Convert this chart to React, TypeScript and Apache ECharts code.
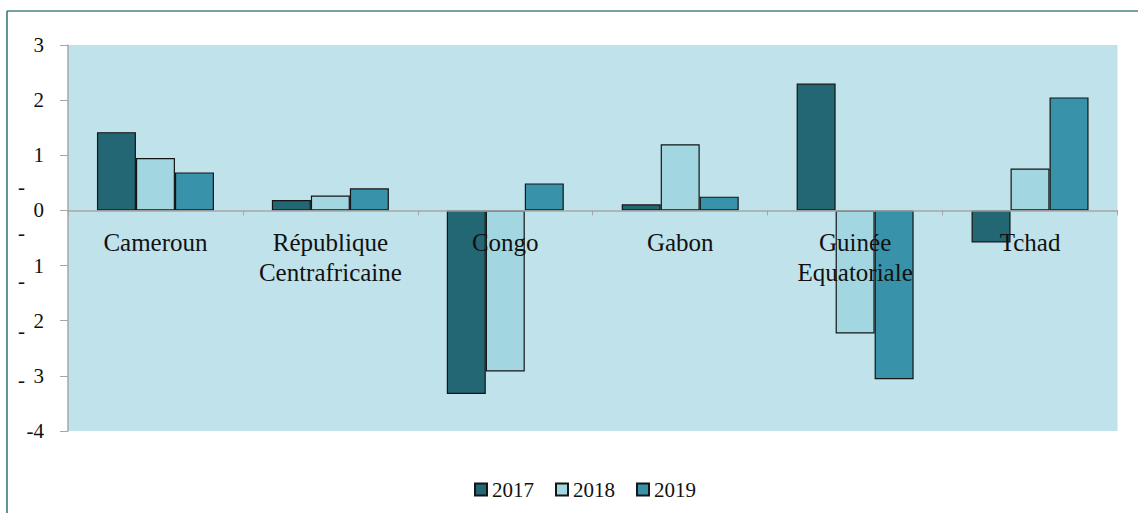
import React, { useEffect, useRef } from "react";
import * as echarts from "echarts";

const categories = [
  "Cameroun",
  "République\nCentrafricaine",
  "Congo",
  "Gabon",
  "Guinée\nEquatoriale",
  "Tchad",
];
const years = ["2017", "2018", "2019"];
const values2017 = [1.42, 0.19, -3.33, 0.11, 2.3, -0.58];
const values2018 = [0.95, 0.27, -2.92, 1.2, -2.23, 0.76];
const values2019 = [0.69, 0.4, 0.49, 0.25, -3.06, 2.05];
const colors = ["#236674", "#a2d7e2", "#3792aa"];
const yTicks = { min: -4, max: 3, interval: 1 };
// stray minus signs as printed in the source figure, next to the axis labels
const strayDashY = [189, 235, 283, 333, 382];

const SERIF = "Liberation Serif";
const GRID_TOP = 45;
const GRID_BOTTOM = 82;
const HEIGHT = 513;

export default function App() {
  const ref = useRef<HTMLDivElement>(null);
  useEffect(() => {
    document.body.style.margin = "0";
    const chart = echarts.init(ref.current!, null, { renderer: "svg" });
    const seriesData = [values2017, values2018, values2019];
    const plotH = HEIGHT - GRID_TOP - GRID_BOTTOM;
    // distance from the bottom of the plot up to the zero line
    const zeroOffset = (plotH * (0 - yTicks.min)) / (yTicks.max - yTicks.min);
    chart.setOption({
      animation: false,
      backgroundColor: "#ffffff",
      grid: {
        left: 68,
        right: 20.5,
        top: GRID_TOP,
        bottom: GRID_BOTTOM,
        show: true,
        backgroundColor: "#c0e2ea",
        borderWidth: 0,
      },
      legend: {
        data: years,
        left: 469,
        top: 474,
        itemWidth: 12,
        itemHeight: 12,
        itemGap: 21,
        icon: "rect",
        textStyle: { fontFamily: SERIF, fontSize: 21, color: "#111" },
      },
      xAxis: {
        type: "category",
        data: categories,
        z: 10,
        position: "bottom",
        offset: -zeroOffset,
        axisLine: { onZero: false, lineStyle: { color: "#a6a6a6", width: 1.5 } },
        axisTick: { show: true, length: 5, lineStyle: { color: "#a6a6a6" } },
        axisLabel: {
          fontFamily: SERIF,
          fontSize: 25,
          lineHeight: 30,
          color: "#111",
          margin: 17,
          interval: 0,
        },
      },
      yAxis: {
        type: "value",
        min: yTicks.min,
        max: yTicks.max,
        interval: yTicks.interval,
        splitLine: { show: false },
        axisLine: { show: true, lineStyle: { color: "#a6a6a6", width: 1.5 } },
        axisTick: { show: true, length: 8, lineStyle: { color: "#a6a6a6" } },
        axisLabel: {
          fontFamily: SERIF,
          fontSize: 21,
          color: "#111",
          margin: 24,
          formatter: (v: number) => (v < 0 && v > -4 ? String(-v) : String(v)),
        },
      },
      graphic: [
        {
          type: "line",
          shape: { x1: 7, y1: 11, x2: 1138, y2: 11 },
          style: { stroke: "#4a8585", lineWidth: 1.5 },
        },
        {
          type: "line",
          shape: { x1: 7, y1: 11, x2: 7, y2: 513 },
          style: { stroke: "#2f6f6f", lineWidth: 1.5 },
        },
        ...strayDashY.map((y) => ({
          type: "text",
          x: 18,
          y: y - 2,
          style: {
            text: "-",
            fontFamily: SERIF,
            fontSize: 21,
            fill: "#111",
            textVerticalAlign: "middle",
          },
        })),
      ],
      series: years.map((name, i) => ({
        name,
        type: "bar",
        data: seriesData[i],
        barWidth: 39,
        barGap: "0%",
        itemStyle: { color: colors[i], borderColor: "#151515", borderWidth: 1.2 },
      })),
    });
    return () => chart.dispose();
  }, []);
  return <div ref={ref} style={{ width: 1138, height: 513 }} />;
}
